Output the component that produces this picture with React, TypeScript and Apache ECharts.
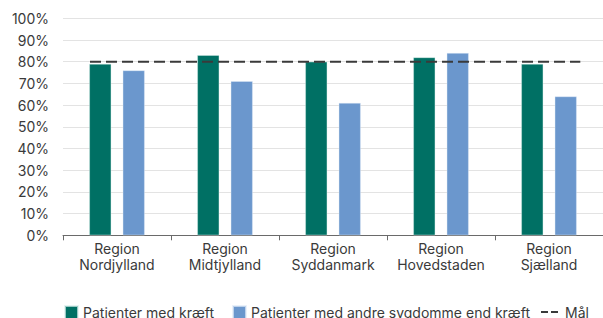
import React, { useEffect, useRef } from "react";
import * as echarts from "echarts";

const categories = [
  "Region\nNordjylland",
  "Region\nMidtjylland",
  "Region\nSyddanmark",
  "Region\nHovedstaden",
  "Region\nSjælland",
];
const cancerValues = [79, 83, 80, 82, 79];
const otherValues = [76, 71, 61, 84, 64];
const goalValue = 80;
const yTicks = [0, 10, 20, 30, 40, 50, 60, 70, 80, 90, 100];
const seriesNames = ["Patienter med kræft", "Patienter med andre sygdomme end kræft", "Mål"];

const GREEN = "#007064";
const BLUE = "#6b97cd";
const TEXT = "#3a3a3a";
const FONT = "Inter, 'Noto Sans', sans-serif";

export default function App() {
  const ref = useRef<HTMLDivElement>(null);
  useEffect(() => {
    if (!ref.current) return;
    const chart = echarts.init(ref.current, undefined, { renderer: "svg" });
    const n = categories.length;
    const legendBase = {
      top: 305,
      padding: 0,
      itemWidth: 13,
      itemHeight: 13,
      textStyle: { fontSize: 14, color: TEXT, fontFamily: FONT },
    };
    chart.setOption({
      animation: false,
      textStyle: { fontFamily: FONT },
      grid: { left: 63, top: 18.3, width: 546.5, bottom: 82.7, containLabel: false },
      legend: [
        { ...legendBase, left: 64, icon: "rect", data: [seriesNames[0]] },
        { ...legendBase, left: 232, icon: "rect", data: [seriesNames[1]] },
        {
          ...legendBase,
          left: 541,
          itemWidth: 17,
          textStyle: { ...legendBase.textStyle, padding: [0, 0, 0, 2] },
          data: [{ name: seriesNames[2], icon: "path://M0,0H7V2H0Z M10,0H17V2H10Z" }],
        },
      ],
      xAxis: [
        {
          type: "category",
          data: categories,
          axisLine: { lineStyle: { color: "#6a6a6a", width: 1 } },
          axisTick: { show: true, length: 5, lineStyle: { color: "#6a6a6a" } },
          axisLabel: {
            fontSize: 14,
            lineHeight: 16,
            color: TEXT,
            margin: 5,
            fontFamily: FONT,
            interval: 0,
          },
        },
        {
          type: "value",
          min: 0,
          max: n,
          show: false,
        },
      ],
      yAxis: {
        type: "value",
        min: yTicks[0],
        max: yTicks[yTicks.length - 1],
        interval: 10,
        axisLine: { show: false },
        axisTick: { show: false },
        splitLine: { lineStyle: { color: "#e3e3e3", width: 1 } },
        axisLabel: {
          formatter: "{value}%",
          fontSize: 14,
          color: TEXT,
          margin: 14,
          fontFamily: FONT,
        },
      },
      series: [
        {
          name: seriesNames[0],
          type: "bar",
          data: cancerValues,
          barWidth: 22,
          barGap: "52%",
          itemStyle: { color: GREEN, borderColor: "rgba(220,240,236,0.7)", borderWidth: 0.6 },
        },
        {
          name: seriesNames[1],
          type: "bar",
          data: otherValues,
          barWidth: 22,
          barGap: "52%",
          itemStyle: { color: BLUE, borderColor: "rgba(225,235,248,0.7)", borderWidth: 0.6 },
        },
        {
          name: seriesNames[2],
          type: "line",
          xAxisIndex: 1,
          data: [
            [0.25, goalValue],
            [n - 0.21, goalValue],
          ],
          symbol: "none",
          lineStyle: { color: "#3a3a3a", width: 2, type: [11, 5] },
          itemStyle: { color: "#3a3a3a" },
          z: 5,
        },
      ],
    });
    return () => chart.dispose();
  }, []);
  return <div ref={ref} style={{ width: 603, height: 318, position: "absolute", left: 0, top: 0 }} />;
}
